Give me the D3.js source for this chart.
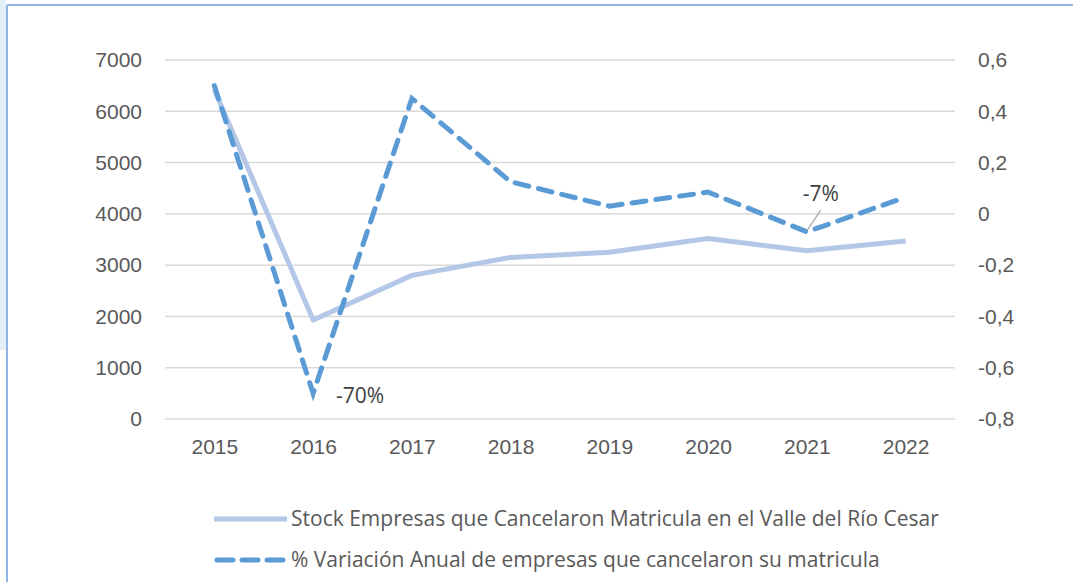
<!DOCTYPE html>
<html>
<head>
<meta charset="utf-8">
<script src="https://cdn.jsdelivr.net/npm/d3@7"></script>
<style>
  body { margin: 0; background: #fff; }
  svg { display: block; font-family: "Open Sans", Lato, sans-serif; }
</style>
</head>
<body>
<div id="chart"></div>
<script>
const years = ["2015", "2016", "2017", "2018", "2019", "2020", "2021", "2022"]
const stock = [6420, 1930, 2800, 3150, 3250, 3520, 3280, 3470]
const variacion = [0.50, -0.70, 0.45, 0.125, 0.03, 0.085, -0.07, 0.065]
const leftTicks = [0, 1000, 2000, 3000, 4000, 5000, 6000, 7000]
const rightTicks = [-0.8, -0.6, -0.4, -0.2, 0, 0.2, 0.4, 0.6]
const seriesNames = [
    "Stock Empresas que Cancelaron Matricula en el Valle del Río Cesar",
    "% Variación Anual de empresas que cancelaron su matricula"
]

const width = 1073
const height = 582
const plot = {left: 165, right: 955, top: 60, bottom: 419}
const textColor = "#595959"
const stockColor = "#b4c7e7"
const varColor = "#5b9bd5"
const fontSize = 21

const svg = d3.select("#chart").append("svg")
    .attr("width", width)
    .attr("height", height)

// frame of the pasted chart
svg.append("rect").attr("x", 0).attr("y", 0).attr("width", 6).attr("height", 350).attr("fill", "#e4eef8")
svg.append("line").attr("x1", 7).attr("x2", 7).attr("y1", 5).attr("y2", height)
    .attr("stroke", "#8eb4e3").attr("stroke-width", 2)
svg.append("line").attr("x1", 7).attr("x2", width).attr("y1", 5).attr("y2", 5)
    .attr("stroke", "#8eb4e3").attr("stroke-width", 2)

const x = d3.scalePoint().domain(years).range([plot.left, plot.right]).padding(0.5)
const yLeft = d3.scaleLinear().domain([0, 7000]).range([plot.bottom, plot.top])
const yRight = d3.scaleLinear().domain([-0.8, 0.6]).range([plot.bottom, plot.top])

// gridlines
svg.append("g")
    .selectAll("line")
    .data(leftTicks)
    .enter()
    .append("line")
    .attr("x1", plot.left)
    .attr("x2", plot.right)
    .attr("y1", d => yLeft(d))
    .attr("y2", d => yLeft(d))
    .attr("stroke", "#d9d9d9")
    .attr("stroke-width", 1.5)

// left axis
const leftAxis = svg.append("g")
    .attr("transform", "translate(" + 142 + ",0)")
    .call(d3.axisLeft(yLeft).tickValues(leftTicks).tickSize(0).tickPadding(0).tickFormat(d3.format("d")))
leftAxis.select(".domain").remove()
leftAxis.selectAll("text").attr("font-size", fontSize).attr("fill", textColor).attr("font-family", null)

// right axis
const comma = d => d === 0 ? "0" : d3.format(".1f")(d).replace(".", ",").replace("−", "-")
const rightAxis = svg.append("g")
    .attr("transform", "translate(" + 978 + ",0)")
    .call(d3.axisRight(yRight).tickValues(rightTicks).tickSize(0).tickPadding(0).tickFormat(comma))
rightAxis.select(".domain").remove()
rightAxis.selectAll("text").attr("font-size", fontSize).attr("fill", textColor).attr("font-family", null)

// bottom axis
const bottomAxis = svg.append("g")
    .attr("transform", "translate(0," + 439 + ")")
    .call(d3.axisBottom(x).tickSize(0).tickPadding(0))
bottomAxis.select(".domain").remove()
bottomAxis.selectAll("text").attr("font-size", fontSize).attr("fill", textColor).attr("font-family", null)

// stock line
svg.append("path")
    .datum(stock)
    .attr("fill", "none")
    .attr("stroke", stockColor)
    .attr("stroke-width", 5)
    .attr("stroke-linejoin", "round")
    .attr("d", d3.line().x((d, i) => x(years[i])).y(d => yLeft(d)))

// variation line
svg.append("path")
    .datum(variacion)
    .attr("fill", "none")
    .attr("stroke", varColor)
    .attr("stroke-width", 5)
    .attr("stroke-linecap", "round")
    .attr("stroke-dasharray", "14,10")
    .attr("d", d3.line().x((d, i) => x(years[i])).y(d => yRight(d)))

// data labels
const fmtPct = d => d3.format(".0%")(d).replace("−", "-")
svg.append("text")
    .attr("x", x(years[1]) + 47)
    .attr("y", yRight(variacion[1]) + 10)
    .attr("text-anchor", "middle")
    .attr("font-size", fontSize)
    .attr("fill", "#404040")
    .text(fmtPct(variacion[1]))

svg.append("line")
    .attr("x1", x(years[6]) + 14)
    .attr("y1", yRight(variacion[6]) - 22)
    .attr("x2", x(years[6]))
    .attr("y2", yRight(variacion[6]) - 1)
    .attr("stroke", "#a6a6a6")
    .attr("stroke-width", 1.2)
svg.append("text")
    .attr("x", x(years[6]) + 14)
    .attr("y", yRight(variacion[6]) - 31)
    .attr("text-anchor", "middle")
    .attr("font-size", fontSize)
    .attr("fill", "#404040")
    .text(fmtPct(variacion[6]))

// legend
const legend = svg.append("g")
seriesNames.forEach((name, i) => {
    const ly = 519 + i * 41
    legend.append("line")
        .attr("x1", i === 0 ? 214 : 217)
        .attr("x2", i === 0 ? 287 : 285)
        .attr("y1", ly)
        .attr("y2", ly)
        .attr("stroke", i === 0 ? stockColor : varColor)
        .attr("stroke-width", 5)
        .attr("stroke-linecap", i === 0 ? "butt" : "round")
        .attr("stroke-dasharray", i === 0 ? null : "16,9")
    legend.append("text")
        .attr("x", 291)
        .attr("y", ly + 7)
        .attr("font-size", fontSize)
        .attr("fill", textColor)
        .text(name)
})
</script>
</body>
</html>
